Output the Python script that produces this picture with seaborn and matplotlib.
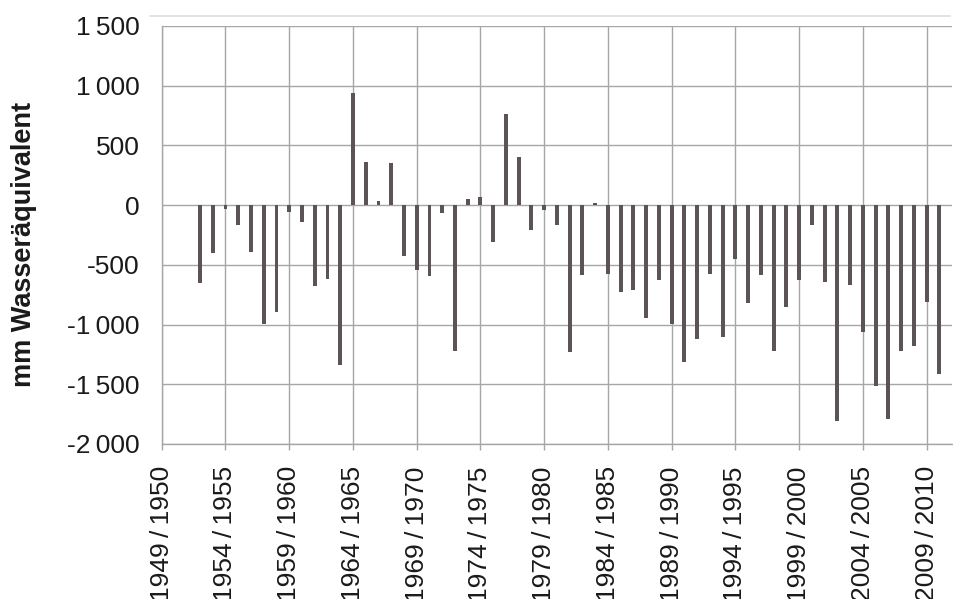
import numpy as np
import pandas as pd
import matplotlib
matplotlib.use("Agg")
import matplotlib.pyplot as plt
import seaborn as sns
from matplotlib.lines import Line2D

# Hydrological years shown on the axis
start_years = list(range(1949, 2012))
categories = [f"{y}/{y + 1}" for y in start_years]

# Years with data (1952/53 .. 2010/11)
data_years = [f"{y}/{y + 1}" for y in range(1952, 2011)]
values = [
    -656, -405, -36, -170, -394, -992, -894, -59, -142, -679,
    -617, -1341, 936, 360, 31, 355, -422, -547, -595, -64,
    -1223, 53, 64, -310, 760, 405, -212, -42, -170, -1232,
    -584, 22, -573, -726, -712, -941, -627, -992, -1316, -1117,
    -573, -1103, -450, -821, -584, -1220, -857, -631, -170, -640,
    -1804, -668, -1059, -1517, -1788, -1223, -1176, -815, -1413,
]

y_ticks = [1500, 1000, 500, 0, -500, -1000, -1500, -2000]
y_tick_labels = ["1\u2009500", "1\u2009000", "500", "0", "-500",
                 "-1\u2009000", "-1\u2009500", "-2\u2009000"]
x_tick_labels = [c.replace("/", "\u2009/\u2009") for c in categories[::5]]
y_label = "mm Wasseräquivalent"

df = pd.DataFrame({"year": data_years, "value": values})

sns.set_theme(style="white")
plt.rcParams["font.family"] = ["Liberation Sans", "DejaVu Sans"]

fig = plt.figure(figsize=(9.54, 5.99), dpi=100)
ax = fig.add_axes([0.1695, 0.2588, 0.8285, 0.6978])

sns.barplot(data=df, x="year", y="value", order=categories,
            color="#5b5355", saturation=1, width=0.3, linewidth=0,
            ax=ax, zorder=3)

grid_c = "#a6a6a6"
ax.set_xlim(0, len(categories) - 1)
ax.set_ylim(-2000, 1500)
ax.set_yticks(y_ticks)
ax.set_yticklabels(y_tick_labels, fontsize=19, color="#1a1a1a")
tick_pos = list(range(0, len(categories), 5))
ax.set_xticks(tick_pos)
ax.set_xticklabels(x_tick_labels, rotation=90, fontsize=19, color="#1a1a1a",
                   va="top", ha="center")
ax.grid(True, axis="both", color=grid_c, linewidth=1.0, zorder=0)
ax.set_axisbelow(True)
ax.tick_params(axis="x", length=4, width=1, color=grid_c, pad=12, direction="out", bottom=True)
ax.tick_params(axis="y", length=0, pad=16)
for s in ["top", "right"]:
    ax.spines[s].set_visible(False)
ax.spines["left"].set_color(grid_c)
ax.spines["bottom"].set_color(grid_c)
ax.spines["left"].set_linewidth(1.0)
ax.spines["bottom"].set_linewidth(1.0)

ax.set_xlabel("")
ax.set_ylabel(y_label, fontsize=19.5, fontweight="bold", color="#1a1a1a")
ax.yaxis.set_label_coords(-0.158, 0.478)

# faint frame line at the top of the chart area
fig.add_artist(Line2D([150 / 954, 950 / 954], [1 - 16 / 599, 1 - 16 / 599],
                      color="#dddddd", linewidth=1.2))

fig.savefig("out.png", dpi=100)
